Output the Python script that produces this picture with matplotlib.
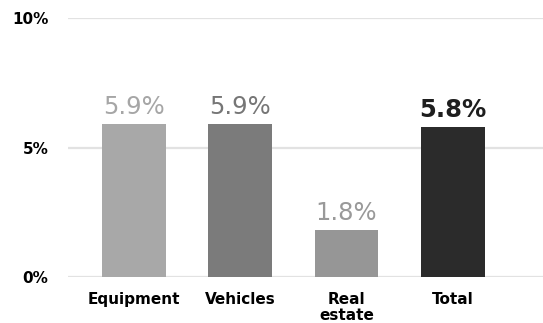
import matplotlib
matplotlib.use('Agg')
import matplotlib.pyplot as plt
import numpy as np

categories = ['Equipment', 'Vehicles', 'Real\nestate', 'Total']
values = [5.9, 5.9, 1.8, 5.8]
bar_colors = ['#a8a8a8', '#7b7b7b', '#969696', '#2b2b2b']
label_colors = ['#a6a6a6', '#767676', '#999999', '#1e1e1e']
y_ticks = [0, 5, 10]

plt.rcParams['font.family'] = ['DejaVu Sans']

fig = plt.figure(figsize=(5.43, 3.23), dpi=100)
ax = fig.add_axes([68 / 543, 46 / 323, 475 / 543, 259 / 323])

x = np.arange(len(categories))
bars = ax.bar(x, values, width=0.6, color=bar_colors, zorder=2)

for xi, v, c in zip(x, values, label_colors):
    ax.text(xi, v + 0.2, '{0:.1f}%'.format(v), ha='center', va='bottom',
            fontsize=17.5, color=c, fontweight='bold' if c == '#1e1e1e' else 'normal')

ax.set_xlim(-0.62, 3.85)
ax.set_ylim(0, 10)
ax.set_yticks(y_ticks)
ax.set_yticklabels(['{0}%'.format(t) for t in y_ticks], fontsize=11, fontweight='bold')
ax.set_xticks(x)
ax.set_xticklabels(categories, fontsize=11, fontweight='bold', linespacing=1.05)
ax.grid(axis='y', color='#e2e2e2', linewidth=1.6, zorder=0)
ax.tick_params(length=0)
ax.tick_params(axis='y', pad=14)
ax.tick_params(axis='x', pad=11)
for s in ax.spines.values():
    s.set_visible(False)

fig.savefig('out.png', dpi=100)
